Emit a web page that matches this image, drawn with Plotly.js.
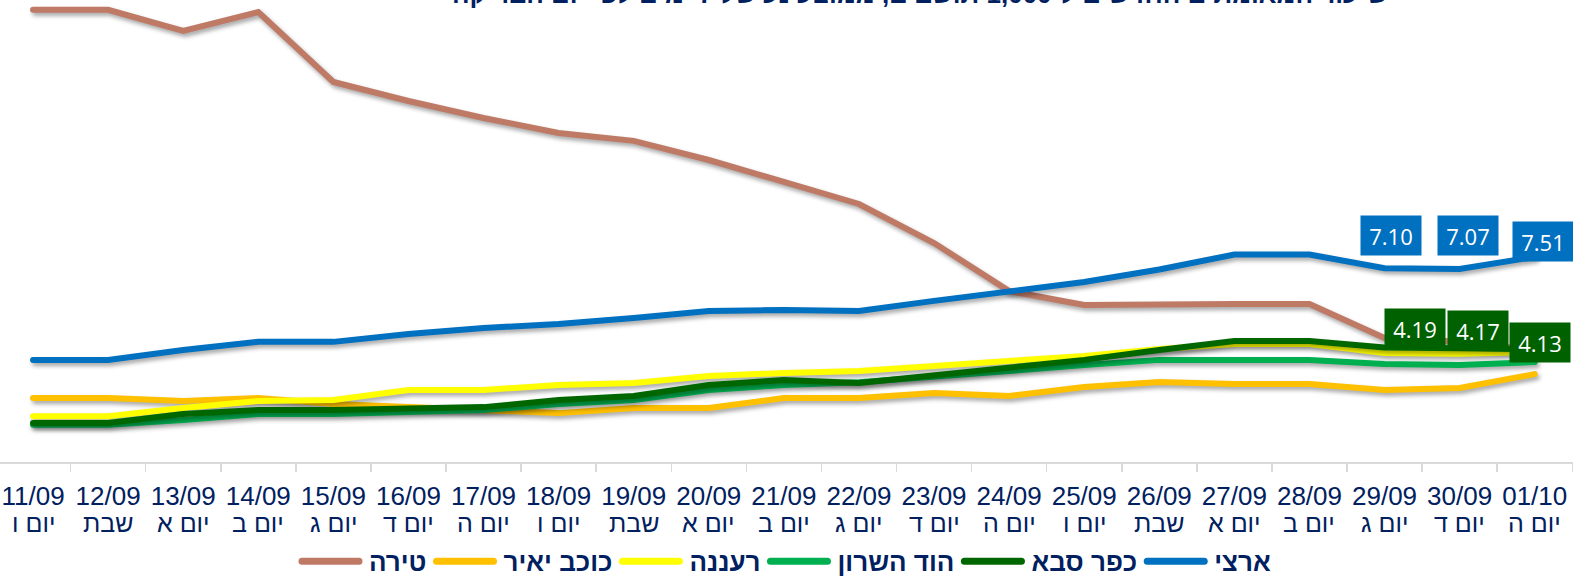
<!DOCTYPE html>
<html><head><meta charset="utf-8">
<script src="https://cdn.plot.ly/plotly-3.0.1.min.js"></script>
<style>
html,body{margin:0;padding:0;background:#fff;}
#chart{width:1573px;height:580px;}
.scatterlayer .trace{filter:drop-shadow(2px 3px 2px rgba(0,0,0,0.35));}
.scatterlayer .js-line{stroke-linecap:round;}
.legendlines path{stroke-linecap:round;stroke-width:7px !important;}
</style></head><body><div id="chart"></div>
<script>
const dates = ["11/09","12/09","13/09","14/09","15/09","16/09","17/09","18/09","19/09","20/09","21/09","22/09","23/09","24/09","25/09","26/09","27/09","28/09","29/09","30/09","01/10"];
const days = ["יום ו","שבת","יום א","יום ב","יום ג","יום ד","יום ה","יום ו","שבת","יום א","יום ב","יום ג","יום ד","יום ה","יום ו","שבת","יום א","יום ב","יום ג","יום ד","יום ה"];
const tira = [16.56,16.56,15.79,16.48,13.92,13.22,12.6,12.05,11.76,11.06,10.26,9.45,8.02,6.26,5.75,5.79,5.79,5.79,4.54,4.40,4.10];
const kochavYair = [2.34,2.34,2.23,2.34,2.12,2.01,1.90,1.79,1.98,1.98,2.34,2.34,2.53,2.42,2.75,2.93,2.86,2.86,2.64,2.71,3.22];
const raanana = [1.68,1.68,1.98,2.23,2.27,2.64,2.64,2.82,2.89,3.15,3.26,3.33,3.52,3.70,3.88,4.14,4.32,4.32,3.99,3.96,4.03];
const hodHasharon = [1.36,1.36,1.54,1.76,1.76,1.83,1.90,2.12,2.27,2.64,2.82,2.92,3.11,3.33,3.55,3.74,3.74,3.74,3.59,3.55,3.66];
const kfarSaba = [1.43,1.43,1.76,1.90,1.90,1.94,2.01,2.27,2.42,2.82,3.00,2.89,3.19,3.44,3.74,4.10,4.43,4.43,4.19,4.17,4.13];
const national = [3.74,3.74,4.10,4.40,4.40,4.69,4.91,5.05,5.27,5.53,5.57,5.53,5.90,6.26,6.59,7.05,7.60,7.60,7.10,7.07,7.51];
const seriesNames = ["טירה","כוכב יאיר","רעננה","הוד השרון","כפר סבא","ארצי"];
const titleText = "שיעור המאומתים החדשים ל-1,000 תושבים, ממוצע נע של 7 ימים לפי יום הבדיקה";

const navy = "#002060";
const colors = ["#BF7A66","#FFC000","#FFFF00","#00B050","#006600","#0070C0"];
const allSeries = [tira, kochavYair, raanana, hodHasharon, kfarSaba, national];

const traces = allSeries.map((vals, i) => ({
  type: "scatter", mode: "lines", x: dates, y: vals, name: seriesNames[i],
  line: {color: colors[i], width: 6}, hoverinfo: "skip"
}));

const annotations = [];
annotations.push({xref:"paper", yref:"paper", x:0.585, y:1, xanchor:"center", yanchor:"bottom", yshift:-11,
  text:"<b>"+titleText+"</b>", showarrow:false, font:{family:"Liberation Sans, Arial, sans-serif", size:26, color:navy}});
days.forEach((d, i) => annotations.push({xref:"x", yref:"paper", x:dates[i], y:0, yanchor:"top", yshift:-46, borderpad:0,
  text:d, showarrow:false, font:{family:"Liberation Sans Narrow, Liberation Sans, Arial, sans-serif", size:25, color:navy}}));

// value labels for last three points
const labelIdx = [18,19,20];
const blueShift = [[6,33],[8,33],[8,15]];
const greenShift = [[30,19],[18,18],[5,7]];
labelIdx.forEach((idx, k) => {
  annotations.push({xref:"x", yref:"y", x:dates[idx], y:national[idx], text:national[idx].toFixed(2), showarrow:false,
    xshift:blueShift[k][0], yshift:blueShift[k][1], bgcolor:"#0070C0", width:58, height:37,
    font:{family:"Open Sans, Noto Sans, sans-serif", size:22, color:"#FFFFFF"}});
  annotations.push({xref:"x", yref:"y", x:dates[idx], y:kfarSaba[idx], text:kfarSaba[idx].toFixed(2), showarrow:false,
    xshift:greenShift[k][0], yshift:greenShift[k][1], bgcolor:"#006100", width:58, height:37,
    font:{family:"Open Sans, Noto Sans, sans-serif", size:22, color:"#FFFFFF"}});
});

const layout = {
  width:1573, height:580,
  margin:{l:0, r:0, t:0, b:118, pad:0, autoexpand:false},
  paper_bgcolor:"#FFFFFF", plot_bgcolor:"#FFFFFF",
  showlegend:true,
  legend:{orientation:"h", x:0.5, xanchor:"center", yref:"container", y:0.032, yanchor:"middle", itemwidth:62,
    font:{family:"Liberation Sans, Arial, sans-serif", size:26, color:navy, weight:"bold"}},
  xaxis:{type:"category", range:[-0.44, 20.51], showline:true, linecolor:"#D9D9D9", linewidth:2, automargin:false,
    ticks:"outside", tickson:"boundaries", ticklen:8, tickcolor:"#D9D9D9", tickwidth:1.5, ticklabelstandoff:10,
    showgrid:false, zeroline:false, fixedrange:true,
    tickfont:{family:"Liberation Sans Narrow, Liberation Sans, Arial, sans-serif", size:26, color:navy}},
  yaxis:{range:[0, 16.92], showticklabels:false, showgrid:false, zeroline:false, showline:false, ticks:"", fixedrange:true, automargin:false},
  annotations: annotations
};

Plotly.newPlot("chart", traces, layout, {staticPlot:true, displayModeBar:false}).then(gd => {
  gd.querySelectorAll(".legendlines path").forEach(p => p.setAttribute("d", "M5,0h57"));
});
</script></body></html>
